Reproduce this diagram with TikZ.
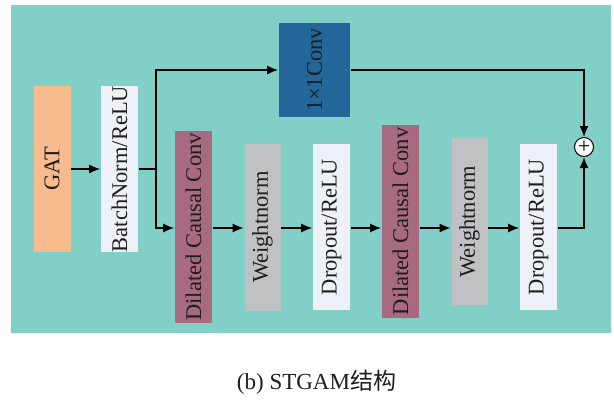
\documentclass[tikz,border=0pt]{standalone}
\usepackage{fontspec}
\setmainfont{Liberation Serif}
\newfontfamily\cjk{Noto Sans CJK SC}
\usepackage{tikz}
\usetikzlibrary{arrows.meta}

\definecolor{panel}{HTML}{82CFC8}
\definecolor{gatc}{HTML}{F8BB8E}
\definecolor{lightc}{HTML}{EEF2F8}
\definecolor{convc}{HTML}{23669A}
\definecolor{dccc}{HTML}{A76A80}
\definecolor{wnc}{HTML}{BFC1C2}
\definecolor{ink}{HTML}{1E1E1E}

\begin{document}
\begin{tikzpicture}[x=1pt,y=-1pt,node distance=69pt,line width=1.6pt,>={Latex[length=11pt,width=9pt]}]
  \tikzset{blk/.style={rotate=90,inner sep=0pt,minimum width=166pt,minimum height=37pt,
      text=ink,font=\fontsize{22.5}{24}\selectfont}}
  \useasboundingbox (0,0) rectangle (614,402);
  \fill[panel] (11,5) rectangle (611,333);

  \node[blk,fill=gatc] (gat) at (52,169) {GAT};
  \node[blk,fill=lightc] (bn) at (119.5,169) {BatchNorm/ReLU};
  \node[blk,fill=convc,minimum width=94pt,minimum height=71pt] (conv) at (314.5,70) {1×1Conv};

  % main row
  \node[blk,fill=dccc,minimum width=192pt] (dcc1) at (193.5,227) {Dilated Causal Conv};
  \node[right of=dcc1,blk,fill=wnc,minimum width=167pt,minimum height=36pt] (wn1) {Weightnorm};
  \node[right of=wn1,blk,fill=lightc] (dr1) {Dropout/ReLU};
  \node[right of=dr1,yshift=5.5pt,blk,fill=dccc,minimum width=193pt] (dcc2) {Dilated Causal Conv};
  \node[right of=dcc2,blk,fill=wnc,minimum width=167pt,minimum height=36pt] (wn2) {Weightnorm};
  \node[right of=wn2,yshift=-5.5pt,blk,fill=lightc] (dr2) {Dropout/ReLU};

  \node[circle,draw,fill=white,line width=1pt,inner sep=0pt,minimum size=19pt,
      font=\fontsize{22}{22}\selectfont] (add) at (584,147) {+};

  \coordinate (split) at (156,169);
  \coordinate (row) at (0,228);

  \path[->] (gat) edge (bn);
  \draw (bn) -- (split);
  \draw[->] (split) |- (conv);
  \draw[->] (split) |- (dcc1.north |- row);
  \foreach \a/\b in {dcc1/wn1,wn1/dr1,dr1/dcc2,dcc2/wn2,wn2/dr2}
    \draw[->] (\a.south |- row) -- (\b.north |- row);
  \draw[->] (conv) -| (add);
  \draw[->] (dr2.south |- row) -| (add);

  \node[text=ink,font=\fontsize{23}{24}\selectfont] (cap) at (316.5,382) {(b) STGAM{\cjk 结构}};
\end{tikzpicture}
\end{document}
